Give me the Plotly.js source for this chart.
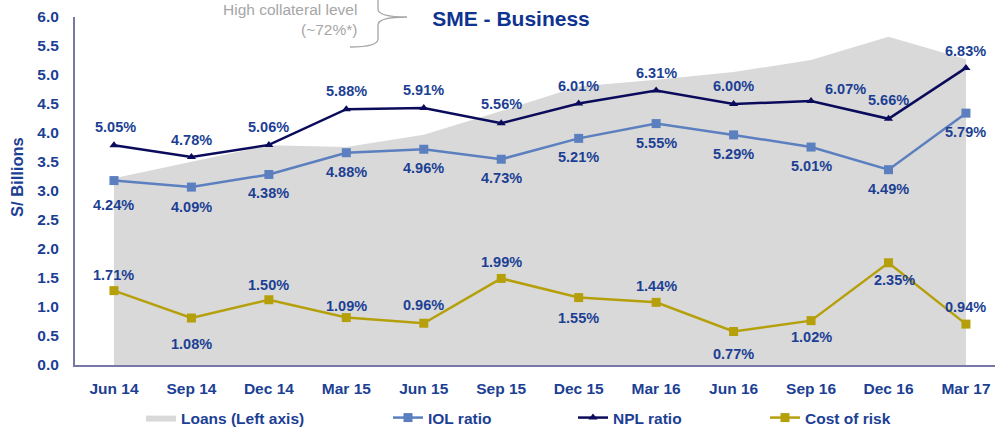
<!DOCTYPE html>
<html><head><meta charset="utf-8">
<script src="https://cdn.plot.ly/plotly-3.0.1.min.js"></script>
<style>html,body{margin:0;padding:0;background:#fff}#chart{width:995px;height:429px}</style>
</head><body><div id="chart"></div>
<script>
// ---- data ----
const quarters = ['Jun 14','Sep 14','Dec 14','Mar 15','Jun 15','Sep 15','Dec 15','Mar 16','Jun 16','Sep 16','Dec 16','Mar 17'];
const loans = [3.22, 3.50, 3.79, 3.76, 3.97, 4.38, 4.80, 4.92, 5.05, 5.26, 5.66, 5.27];
const iolRatio = [4.24, 4.09, 4.38, 4.88, 4.96, 4.73, 5.21, 5.55, 5.29, 5.01, 4.49, 5.79];
const nplRatio = [5.05, 4.78, 5.06, 5.88, 5.91, 5.56, 6.01, 6.31, 6.00, 6.07, 5.66, 6.83];
const costOfRisk = [1.71, 1.08, 1.50, 1.09, 0.96, 1.99, 1.55, 1.44, 0.77, 1.02, 2.35, 0.94];
const yTicks = ['0.0','0.5','1.0','1.5','2.0','2.5','3.0','3.5','4.0','4.5','5.0','5.5','6.0'];

// ---- label placement (style) ----
const nplYShift = [18,17,18,18,18,19,18,18,18,12,19,17];
const nplXShift = [2,0,0,0,0,0,0,0,0,34,0,0];
const iolYShift = [-24,-20,-19,-19,-19,-19,-19,-19,-19,-19,-19,-19];
const corYShift = [16,-26,15,12,18,16,-20,16,-22,-16,-17,17];
const corXShift = [0,0,0,0,0,0,0,0,0,0,6,0];

// ---- geometry helpers (pixel -> paper) ----
const W = 995, H = 429;
const L = 75, R = 995, T = 17, B = 365;
const px = x => (x - L) / (R - L);
const py = y => (B - y) / (B - T);

const FONT = "Arial, 'Liberation Sans', sans-serif";
const BLUE = '#1c3f94';
const C_IOL = '#5b7fbf', C_NPL = '#0b0b5c', C_COR = '#b5a00b', C_LOAN = '#d9d9d9';

const traces = [
  {x: quarters, y: loans, name: 'Loans (Left axis)', type: 'scatter', mode: 'lines',
   fill: 'tozeroy', fillcolor: C_LOAN, line: {width: 0, color: C_LOAN}, hoverinfo: 'skip', legend: 'legend'},
  {x: quarters, y: iolRatio, name: 'IOL ratio', type: 'scatter', mode: 'lines+markers', yaxis: 'y2',
   line: {color: C_IOL, width: 2.5}, marker: {symbol: 'square', size: 9, color: C_IOL}, legend: 'legend2'},
  {x: quarters, y: nplRatio, name: 'NPL ratio', type: 'scatter', mode: 'lines+markers', yaxis: 'y2',
   line: {color: C_NPL, width: 2.5}, marker: {symbol: 'triangle-up', size: 8, color: C_NPL}, legend: 'legend3'},
  {x: quarters, y: costOfRisk, name: 'Cost of risk', type: 'scatter', mode: 'lines+markers', yaxis: 'y2',
   line: {color: C_COR, width: 2.5}, marker: {symbol: 'square', size: 9, color: C_COR}, legend: 'legend4'}
];

const annotations = [];
function addLabels(vals, ys, xs) {
  vals.forEach((v, i) => annotations.push({
    x: quarters[i], y: v, xref: 'x', yref: 'y2', text: '<b>' + v.toFixed(2) + '%</b>', showarrow: false,
    yshift: ys[i], xshift: xs ? xs[i] : 0,
    font: {family: FONT, size: 14.5, color: BLUE, weight: 700}
  }));
}
addLabels(nplRatio, nplYShift, nplXShift);
addLabels(iolRatio, iolYShift, null);
addLabels(costOfRisk, corYShift, corXShift);

annotations.push({
  xref: 'paper', yref: 'paper', x: px(359), y: py(19.5), xanchor: 'right', yanchor: 'middle',
  align: 'right', showarrow: false, text: 'High collateral level<br>(~72%*)',
  font: {family: FONT, size: 15.5, color: '#a6a6a6'}
});
annotations.push({
  xref: 'paper', yref: 'paper', x: px(17), y: py(177), xanchor: 'center', yanchor: 'middle',
  textangle: -90, showarrow: false, text: '<b>S/ Billions</b>',
  font: {family: FONT, size: 16.5, color: BLUE, weight: 700}
});

const p = (x, y) => px(x) + ',' + py(y);
const brace = 'M' + p(350,-14) + ' Q' + p(378,-14) + ' ' + p(378,-6) + ' L' + p(378,9) +
  ' Q' + p(378,17) + ' ' + p(407,17) + ' Q' + p(378,17) + ' ' + p(378,25) + ' L' + p(378,39) +
  ' Q' + p(378,47) + ' ' + p(350,47);

function leg(xpx) {
  return {x: xpx / W, y: 1 - 418 / H, xref: 'container', yref: 'container',
    xanchor: 'left', yanchor: 'middle', orientation: 'h',
    bgcolor: 'rgba(0,0,0,0)', font: {family: FONT, size: 15.5, color: BLUE, weight: 700}};
}

const layout = {
  width: W, height: H,
  margin: {l: L, r: 0, t: T, b: H - B, autoexpand: false},
  paper_bgcolor: '#fff', plot_bgcolor: '#fff',
  showlegend: true,
  title: {text: 'SME - Business', x: px(511), xref: 'paper', xanchor: 'center',
          y: 1 - 19 / H, yref: 'container', yanchor: 'middle',
          font: {family: FONT, size: 21, color: '#0f3390', weight: 700}},
  xaxis: {type: 'category', range: [-0.503, 11.375], showline: true, linecolor: '#7878a6', linewidth: 2,
          showgrid: false, zeroline: false, ticks: '', ticklabelstandoff: 8,
          tickfont: {family: FONT, size: 15.5, color: BLUE, weight: 700}},
  yaxis: {range: [0, 6], tickvals: yTicks.map(Number), ticktext: yTicks, showline: true,
          linecolor: '#7878a6', linewidth: 2, showgrid: false, zeroline: false, ticks: '',
          ticklabelstandoff: 11, tickfont: {family: FONT, size: 15.5, color: BLUE, weight: 700}},
  yaxis2: {range: [0, 8], overlaying: 'y', side: 'right', visible: false, showgrid: false, zeroline: false},
  legend: leg(141), legend2: leg(388), legend3: leg(573), legend4: leg(765),
  annotations: annotations,
  shapes: [{type: 'path', xref: 'paper', yref: 'paper', path: brace, line: {color: '#a6a6a6', width: 1.3}}]
};

Plotly.newPlot('chart', traces, layout, {displayModeBar: false, staticPlot: true});
</script></body></html>
